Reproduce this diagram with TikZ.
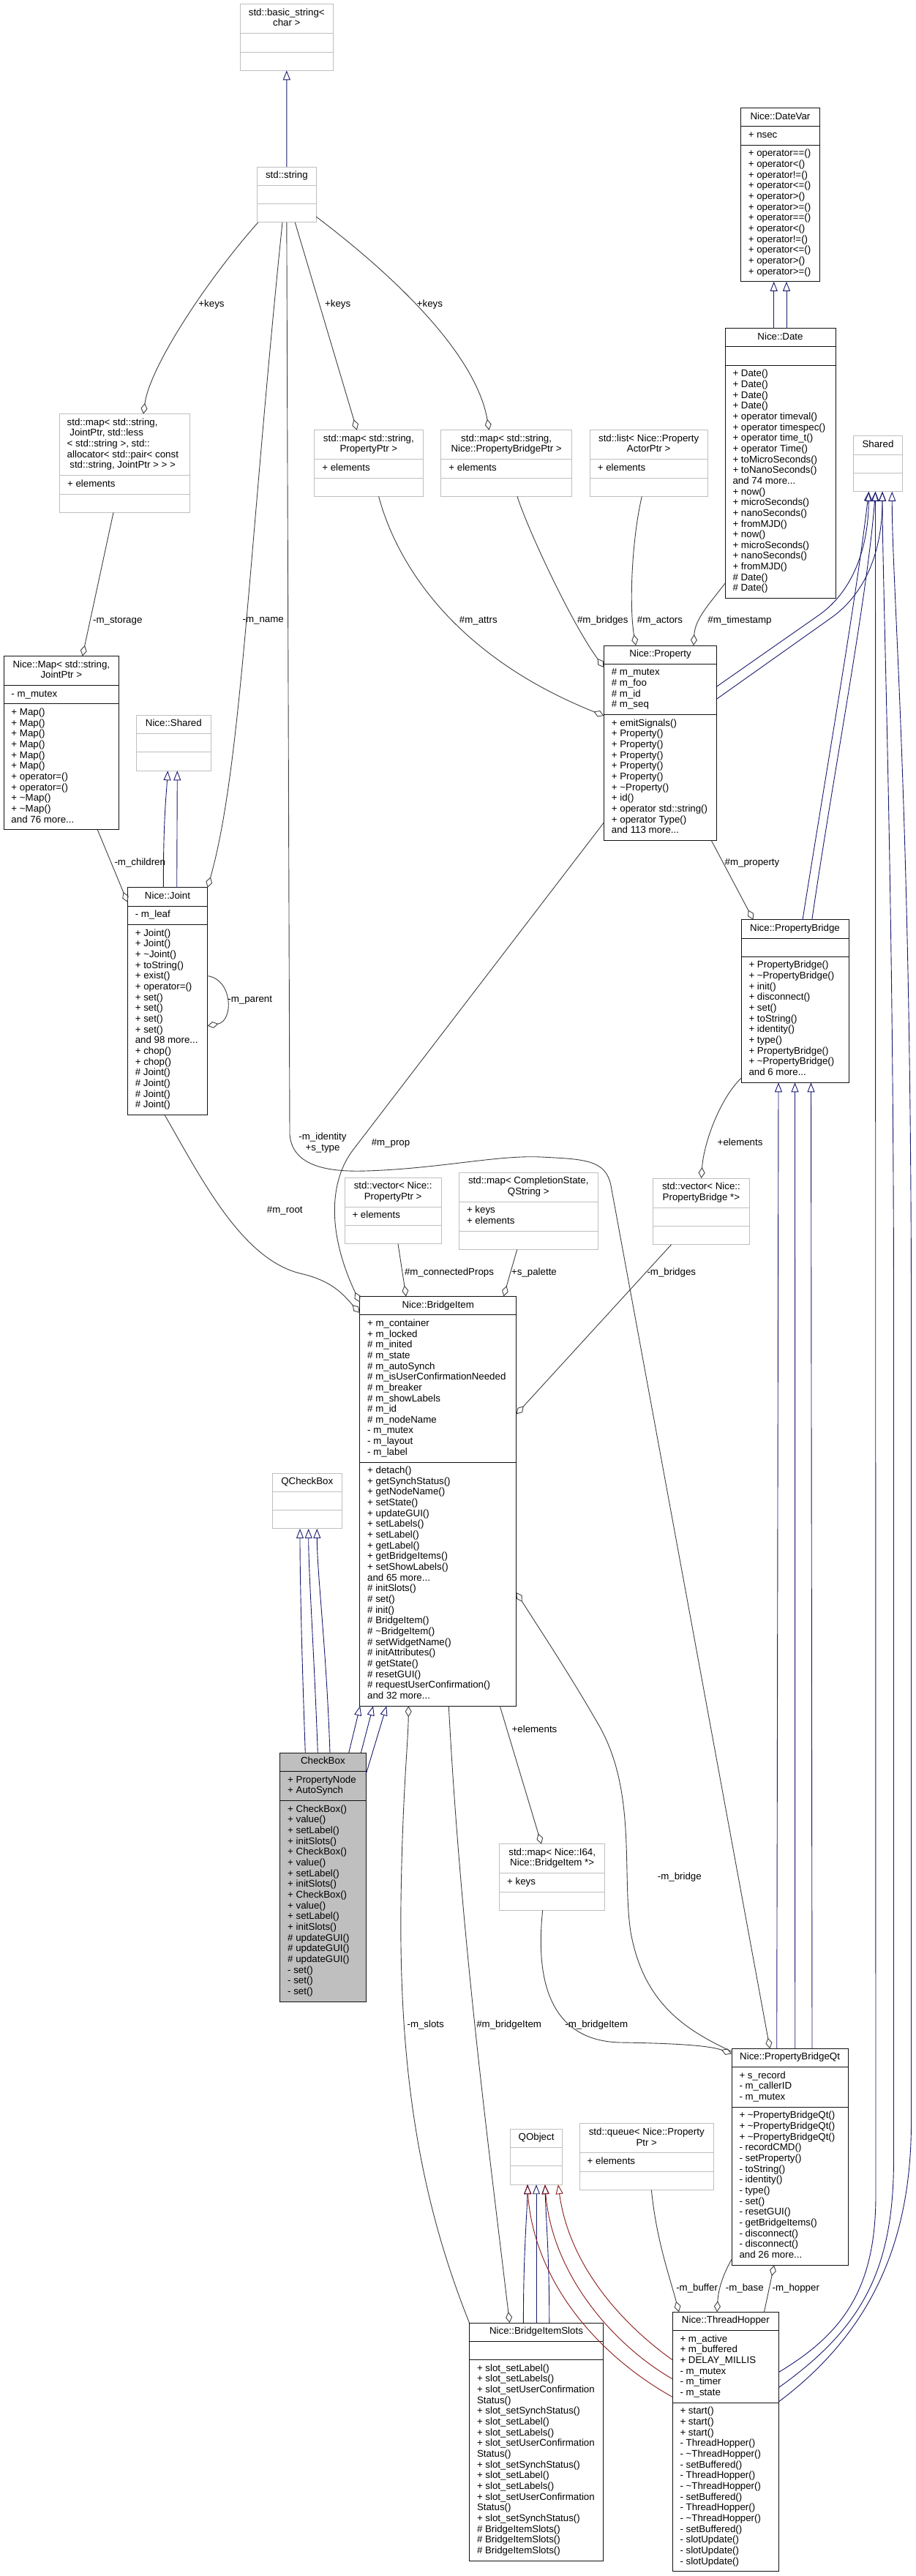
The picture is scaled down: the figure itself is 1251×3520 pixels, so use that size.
\documentclass[tikz,border=0pt]{standalone}
\usepackage{fontspec}
\setmainfont{Liberation Sans}
\usetikzlibrary{arrows.meta,calc}
\definecolor{edgegray}{HTML}{404040}
\definecolor{boxdark}{HTML}{111111}
\definecolor{boxlight}{HTML}{BFBFBF}
\definecolor{inhblue}{HTML}{191970}
\definecolor{inhred}{HTML}{8B1A1A}
\definecolor{cbfill}{HTML}{BFBFBF}
\tikzset{
  every node/.style={font=\fontsize{13.3}{14.66}\selectfont, inner sep=0pt, outer sep=0pt},
  dkbox/.style={draw=boxdark, line width=1pt, fill=white},
  ltbox/.style={draw=boxlight, line width=1pt, fill=white},
  cbbox/.style={draw=boxdark, line width=1pt, fill=cbfill},
  dkbox line/.style={draw=boxdark, line width=1pt},
  ltbox line/.style={draw=boxlight, line width=1pt},
  cbbox line/.style={draw=boxdark, line width=1pt},
  agg/.style={draw=edgegray, line width=0.9pt, -{Diamond[open, length=15pt, width=9pt, line width=0.9pt]}},
  inh/.style={draw=inhblue, line width=0.9pt, -{Triangle[open, length=13pt, width=10pt, line width=0.9pt]}},
  inhr/.style={draw=inhred, line width=0.9pt, -{Triangle[open, length=13pt, width=10pt, line width=0.9pt]}},
  lbl/.style={anchor=center},
}
% #1 name, #2 style, #3 xl, #4 yt, #5 xr, #6 title rows, #7 attr rows, #8 method rows, #9 title
\newcommand\umlclass[9]{%
  \pgfmathsetmacro\uT{#6*14.66+10.7}%
  \pgfmathsetmacro\uA{(#7==0)*25.3+(#7>0)*(#7*14.66+10.7)}%
  \pgfmathsetmacro\uM{(#8==0)*25.3+(#8>0)*(#8*14.66+10.7)}%
  \pgfmathsetmacro\yA{#4+\uT}%
  \pgfmathsetmacro\yM{\yA+\uA}%
  \pgfmathsetmacro\yB{\yM+\uM}%
  \pgfmathsetmacro\cx{(#3+#5)/2}%
  \pgfmathsetmacro\cy{(#4+\yB)/2}%
  \pgfmathsetmacro\ww{#5-#3}%
  \pgfmathsetmacro\hh{\yB-#4}%
  \node[#2, minimum width=\ww pt, minimum height=\hh pt] (#1) at (\cx,\cy) {};
  \draw[#2 line] (#3,\yA) -- (#5,\yA) (#3,\yM) -- (#5,\yM);
  \node[anchor=base] (#1-t) at (\cx,#4+15.6) {\begin{tabular}[t]{@{}c@{}}#9\end{tabular}};
  \coordinate (#1-a) at (#3+10.5,\yA+15.6);
  \coordinate (#1-m) at (#3+10.5,\yM+15.6);
}
\newcommand\umlattr[2]{\node[anchor=base west] (#1-at) at (#1-a) {\begin{tabular}[t]{@{}l@{}}#2\end{tabular}};}
\newcommand\umlmeth[2]{\node[anchor=base west] (#1-mt) at (#1-m) {\begin{tabular}[t]{@{}l@{}}#2\end{tabular}};}
\newcommand\tl{\textasciitilde}
\begin{document}
\begin{tikzpicture}[x=1pt,y=-1pt]
\fill[white] (0,0) rectangle (1251,3520);
\useasboundingbox (0,0) rectangle (1251,3520);

% ---------------- classes ----------------
\umlclass{basic}{ltbox}{328.3}{5.7}{455.3}{2}{0}{0}{std::basic\_string<\\char >}
\umlclass{str}{ltbox}{351.7}{228}{432}{1}{0}{0}{std::string}

\umlclass{mapJ}{ltbox}{81.6}{565.7}{259.6}{5}{1}{0}{}
\node[anchor=base west] (mapJ-t2) at (91.7,581.3) {\begin{tabular}[t]{@{}l@{}}std::map< std::string,\\\ JointPtr, std::less\\< std::string >, std::\\allocator< std::pair< const\\\ std::string, JointPtr > > >\end{tabular}};
\umlattr{mapJ}{+ elements}

\umlclass{mapP}{ltbox}{429.8}{587.7}{578}{2}{1}{0}{std::map< std::string,\\PropertyPtr >}
\umlattr{mapP}{+ elements}
\umlclass{mapB}{ltbox}{602.9}{587.7}{781.4}{2}{1}{0}{std::map< std::string,\\Nice::PropertyBridgePtr >}
\umlattr{mapB}{+ elements}
\umlclass{listA}{ltbox}{806.3}{587.7}{967}{2}{1}{0}{std::list< Nice::Property\\ActorPtr >}
\umlattr{listA}{+ elements}

\umlclass{DateVar}{dkbox}{1012.3}{147.5}{1120.7}{1}{1}{12}{Nice::DateVar}
\umlattr{DateVar}{+ nsec}
\umlmeth{DateVar}{+ operator==()\\+ operator<()\\+ operator!=()\\+ operator<=()\\+ operator>()\\+ operator>=()\\+ operator==()\\+ operator<()\\+ operator!=()\\+ operator<=()\\+ operator>()\\+ operator>=()}

\umlclass{Date}{dkbox}{991}{448.5}{1142}{1}{0}{21}{Nice::Date}
\umlmeth{Date}{+ Date()\\+ Date()\\+ Date()\\+ Date()\\+ operator timeval()\\+ operator timespec()\\+ operator time\_t()\\+ operator Time()\\+ toMicroSeconds()\\+ toNanoSeconds()\\and 74 more...\\+ now()\\+ microSeconds()\\+ nanoSeconds()\\+ fromMJD()\\+ now()\\+ microSeconds()\\+ nanoSeconds()\\+ fromMJD()\\\# Date()\\\# Date()}

\umlclass{Shared}{ltbox}{1166.7}{595.8}{1233.3}{1}{0}{0}{Shared}

\umlclass{Map}{dkbox}{5}{896.5}{162.7}{2}{1}{11}{Nice::Map< std::string,\\JointPtr >}
\umlattr{Map}{- m\_mutex}
\umlmeth{Map}{+ Map()\\+ Map()\\+ Map()\\+ Map()\\+ Map()\\+ Map()\\+ operator=()\\+ operator=()\\+ \tl Map()\\+ \tl Map()\\and 76 more...}

\umlclass{NShared}{ltbox}{186.7}{977.3}{288}{1}{0}{0}{Nice::Shared}

\umlclass{Joint}{dkbox}{174.3}{1212.8}{283.7}{1}{1}{17}{Nice::Joint}
\umlattr{Joint}{- m\_leaf}
\umlmeth{Joint}{+ Joint()\\+ Joint()\\+ \tl Joint()\\+ toString()\\+ exist()\\+ operator=()\\+ set()\\+ set()\\+ set()\\+ set()\\and 98 more...\\+ chop()\\+ chop()\\\# Joint()\\\# Joint()\\\# Joint()\\\# Joint()}

\umlclass{Property}{dkbox}{825.4}{882}{979.8}{1}{4}{11}{Nice::Property}
\umlattr{Property}{\# m\_mutex\\\# m\_foo\\\# m\_id\\\# m\_seq}
\umlmeth{Property}{+ emitSignals()\\+ Property()\\+ Property()\\+ Property()\\+ Property()\\+ Property()\\+ \tl Property()\\+ id()\\+ operator std::string()\\+ operator Type()\\and 113 more...}

\umlclass{PB}{dkbox}{1013}{1256.7}{1160}{1}{0}{11}{Nice::PropertyBridge}
\umlmeth{PB}{+ PropertyBridge()\\+ \tl PropertyBridge()\\+ init()\\+ disconnect()\\+ set()\\+ toString()\\+ identity()\\+ type()\\+ PropertyBridge()\\+ \tl PropertyBridge()\\and 6 more...}

\umlclass{vecP}{ltbox}{471}{1609}{603.3}{2}{1}{0}{std::vector< Nice::\\PropertyPtr >}
\umlattr{vecP}{+ elements}
\umlclass{mapC}{ltbox}{627.5}{1602.3}{817}{2}{2}{0}{std::map< CompletionState,\\QString >}
\umlattr{mapC}{+ keys\\+ elements}
\umlclass{vecB}{ltbox}{892.6}{1610}{1024.2}{2}{0}{0}{std::vector< Nice::\\PropertyBridge *>}

\umlclass{BI}{dkbox}{491.7}{1771.4}{705.7}{1}{13}{22}{Nice::BridgeItem}
\umlattr{BI}{+ m\_container\\+ m\_locked\\\# m\_inited\\\# m\_state\\\# m\_autoSynch\\\# m\_isUserConfirmationNeeded\\\# m\_breaker\\\# m\_showLabels\\\# m\_id\\\# m\_nodeName\\- m\_mutex\\- m\_layout\\- m\_label}
\umlmeth{BI}{+ detach()\\+ getSynchStatus()\\+ getNodeName()\\+ setState()\\+ updateGUI()\\+ setLabels()\\+ setLabel()\\+ getLabel()\\+ getBridgeItems()\\+ setShowLabels()\\and 65 more...\\\# initSlots()\\\# set()\\\# init()\\\# BridgeItem()\\\# \tl BridgeItem()\\\# setWidgetName()\\\# initAttributes()\\\# getState()\\\# resetGUI()\\\# requestUserConfirmation()\\and 32 more...}

\umlclass{QCB}{ltbox}{372.3}{2013}{467.3}{1}{0}{0}{QCheckBox}

\umlclass{CB}{cbbox}{382.7}{2395.3}{500}{1}{2}{18}{CheckBox}
\umlattr{CB}{+ PropertyNode\\+ AutoSynch}
\umlmeth{CB}{+ CheckBox()\\+ value()\\+ setLabel()\\+ initSlots()\\+ CheckBox()\\+ value()\\+ setLabel()\\+ initSlots()\\+ CheckBox()\\+ value()\\+ setLabel()\\+ initSlots()\\\# updateGUI()\\\# updateGUI()\\\# updateGUI()\\- set()\\- set()\\- set()}

\umlclass{mapI}{ltbox}{682.7}{2519.7}{826.7}{2}{1}{0}{std::map< Nice::I64,\\Nice::BridgeItem *>}
\umlattr{mapI}{+ keys}

\umlclass{PBQt}{dkbox}{1000}{2799.3}{1159.2}{1}{3}{14}{Nice::PropertyBridgeQt}
\umlattr{PBQt}{+ s\_record\\- m\_callerID\\- m\_mutex}
\umlmeth{PBQt}{+ \tl PropertyBridgeQt()\\+ \tl PropertyBridgeQt()\\+ \tl PropertyBridgeQt()\\- recordCMD()\\- setProperty()\\- toString()\\- identity()\\- type()\\- set()\\- resetGUI()\\- getBridgeItems()\\- disconnect()\\- disconnect()\\and 26 more...}

\umlclass{QObj}{ltbox}{697.7}{2909.2}{768.4}{1}{0}{0}{QObject}
\umlclass{queue}{ltbox}{792.2}{2901.9}{975.3}{2}{1}{0}{std::queue< Nice::Property\\Ptr >}
\umlattr{queue}{+ elements}

\umlclass{BIS}{dkbox}{641.5}{3174}{824.5}{1}{0}{18}{Nice::BridgeItemSlots}
\umlmeth{BIS}{+ slot\_setLabel()\\+ slot\_setLabels()\\+ slot\_setUserConfirmation\\Status()\\+ slot\_setSynchStatus()\\+ slot\_setLabel()\\+ slot\_setLabels()\\+ slot\_setUserConfirmation\\Status()\\+ slot\_setSynchStatus()\\+ slot\_setLabel()\\+ slot\_setLabels()\\+ slot\_setUserConfirmation\\Status()\\+ slot\_setSynchStatus()\\\# BridgeItemSlots()\\\# BridgeItemSlots()\\\# BridgeItemSlots()}

\umlclass{TH}{dkbox}{919}{3159.2}{1064.7}{1}{6}{15}{Nice::ThreadHopper}
\umlattr{TH}{+ m\_active\\+ m\_buffered\\+ DELAY\_MILLIS\\- m\_mutex\\- m\_timer\\- m\_state}
\umlmeth{TH}{+ start()\\+ start()\\+ start()\\- ThreadHopper()\\- \tl ThreadHopper()\\- setBuffered()\\- ThreadHopper()\\- \tl ThreadHopper()\\- setBuffered()\\- ThreadHopper()\\- \tl ThreadHopper()\\- setBuffered()\\- slotUpdate()\\- slotUpdate()\\- slotUpdate()}

% ---------------- inheritance ----------------
\draw[inh] (str.north) -- (basic.south);
\draw[inh] ($(Date.north west)+(66.7,0)$) -- ($(DateVar.south west)+(45.4,0)$);
\draw[inh] ($(Date.north west)+(84,0)$) -- ($(DateVar.south west)+(62.7,0)$);
\draw[inh] ($(Joint.north west)+(49,0)$) .. controls (223.3,1120) and (227,1090) .. ($(NShared.south west)+(42.6,0)$);
\draw[inh] ($(Joint.north west)+(67.4,0)$) -- ($(NShared.south west)+(55.6,0)$);
\draw[inh] ($(Property.north east)+(0,56)$) -- (1120,840) .. controls (1165,808) and (1187,750) .. ($(Shared.south west)+(20.7,0)$);
\draw[inh] ($(Property.north east)+(0,73)$) -- (1135,845) .. controls (1185,810) and (1206,750) .. ($(Shared.south west)+(39.3,0)$);
\draw[inh] ($(PB.north west)+(84,0)$) .. controls (1130,1050) and (1170,820) .. ($(Shared.south west)+(20.7,0)$);
\draw[inh] ($(PB.north west)+(96.8,0)$) .. controls (1140,1050) and (1185,820) .. ($(Shared.south west)+(29.8,0)$);
\draw[inh] ($(TH.north east)+(0,82.1)$) .. controls (1150,3190) and (1197,3130) .. (1197,3000) -- ($(Shared.south west)+(29.8,0)$);
\draw[inh] ($(TH.north east)+(0,103)$) .. controls (1180,3180) and (1221.5,3100) .. (1221.5,2950) -- (1221.5,1800) .. controls (1221.5,1200) and (1206,800) .. ($(Shared.south west)+(39.3,0)$);
\draw[inh] ($(TH.north east)+(0,122.4)$) .. controls (1200,3180) and (1245.5,3050) .. (1245.5,2900) -- (1245.5,1800) .. controls (1245.5,1100) and (1219,800) .. ($(Shared.south west)+(52.6,0)$);
\draw[inh] ($(PBQt.north west)+(61.7,0)$) -- ($(PB.south west)+(51,0)$);
\draw[inh] ($(PBQt.north west)+(86.7,0)$) -- ($(PB.south west)+(73.5,0)$);
\draw[inh] ($(PBQt.north west)+(110,0)$) -- ($(PB.south west)+(95.5,0)$);
\draw[inh] ($(CB.north west)+(34.6,0)$) .. controls (412,2250) and (410,2150) .. ($(QCB.south west)+(37.7,0)$);
\draw[inh] ($(CB.north west)+(51.6,0)$) .. controls (429,2250) and (421.7,2150) .. ($(QCB.south west)+(49.4,0)$);
\draw[inh] ($(CB.north west)+(68.3,0)$) .. controls (446,2250) and (433.3,2150) .. ($(QCB.south west)+(61,0)$);
\draw[inh] ($(CB.north west)+(94,0)$) -- ($(BI.south west)+(0.5,0)$);
\draw[inh] ($(CB.north west)+(110.6,0)$) -- ($(BI.south west)+(18.3,0)$);
\draw[inh] ($(CB.north east)+(0,29.7)$) -- ($(BI.south west)+(36.6,0)$);
\draw[inh] ($(BIS.north west)+(73.9,0)$) .. controls (715.4,3080) and (720,3030) .. ($(QObj.south west)+(23.7,0)$);
\draw[inh] ($(BIS.north west)+(91.5,0)$) -- ($(QObj.south west)+(35.3,0)$);
\draw[inh] ($(BIS.north west)+(109.3,0)$) .. controls (750.8,3080) and (746,3030) .. ($(QObj.south west)+(47.3,0)$);
\draw[inhr] ($(TH.north west)+(0,65.4)$) .. controls (870,3190) and (780,3110) .. ($(QObj.south west)+(65.2,0)$);
\draw[inhr] ($(TH.north west)+(0,91.5)$) .. controls (840,3205) and (755,3110) .. ($(QObj.south west)+(47.1,0)$);
\draw[inhr] ($(TH.north west)+(0,116.1)$) .. controls (820,3220) and (730,3120) .. ($(QObj.south west)+(22.9,0)$);

% ---------------- usage ----------------
\draw[agg] ($(str.south west)+(1,0)$) .. controls (285,380) and (205,500) .. ($(mapJ.north west)+(114.4,0)$);
\draw[agg] ($(str.south west)+(51.6,0)$) -- ($(mapP.north west)+(58,0)$);
\draw[agg] ($(str.north east)+(0,68)$) .. controls (530,370) and (650,480) .. ($(mapB.north west)+(65.6,0)$);
\draw[agg] ($(str.south west)+(34.3,0)$) .. controls (340,750) and (330,1050) .. (Joint.north east);
\draw[agg] (str.south) -- (396,1550) .. controls (399,1590) and (440,1602) .. (500,1600) .. controls (600,1597) and (680,1578) .. (740,1581) .. controls (800,1584) and (828,1585) .. (835,1620) -- ($(PBQt.north west)+(52.3,0)$);
\draw[agg] ($(mapJ.south west)+(73.4,0)$) -- ($(Map.north west)+(107.7,0)$);
\draw[agg] ($(Map.south west)+(128.3,0)$) -- ($(Joint.north west)+(0,20)$);
\draw[agg] ($(Joint.north east)+(0,120.8)$) .. controls (318,1338) and (320,1395) .. ($(Joint.north east)+(0,189)$);
\draw[agg] ($(mapP.south west)+(87.8,0)$) .. controls (545,780) and (630,900) .. ($(Property.north west)+(0,96)$);
\draw[agg] ($(mapB.south west)+(104.1,0)$) .. controls (720,720) and (780,850) .. ($(Property.north west)+(0,30)$);
\draw[agg] ($(listA.south west)+(71,0)$) .. controls (863,740) and (860,830) .. ($(Property.north west)+(43.6,0)$);
\draw[agg] ($(Date.south west)+(0,-20.7)$) .. controls (970,825) and (950,845) .. ($(Property.north west)+(122.6,0)$);
\draw[agg] ($(Property.south west)+(147,0)$) -- ($(PB.north west)+(16.6,0)$);
\draw[agg] ($(PB.south west)+(0,-6)$) .. controls (985,1500) and (962,1560) .. ($(vecB.north west)+(66,0)$);
\draw[agg] ($(Property.south west)+(0,-24.7)$) -- (482,1572) .. controls (452,1612) and (445,1680) .. ($(BI.north west)+(0,8)$);
\draw[agg] ($(Joint.south west)+(50.7,0)$) .. controls (275,1610) and (330,1720) .. (410,1740) .. controls (455,1750) and (470,1770) .. ($(BI.north west)+(0,22.6)$);
\draw[agg] ($(vecP.south west)+(73,0)$) -- ($(BI.north west)+(63.3,0)$);
\draw[agg] ($(mapC.south west)+(79.2,0)$) -- ($(BI.north west)+(196.6,0)$);
\draw[agg] ($(vecB.south west)+(25,0)$) -- ($(BI.north east)+(0,161)$);
\draw[agg] ($(PBQt.north west)+(0,4)$) .. controls (940,2775) and (880,2740) .. (862,2640) .. controls (850,2560) and (870,2450) .. (820,2360) .. controls (780,2290) and (740,2230) .. ($(BI.north east)+(0,404.6)$);
\draw[agg] ($(BI.south west)+(191.6,0)$) -- ($(mapI.north west)+(57.3,0)$);
\draw[agg] ($(mapI.south west)+(59,0)$) .. controls (730,2720) and (760,2790) .. (850,2791) .. controls (920,2792) and (970,2795) .. ($(PBQt.north west)+(0,7)$);
\draw[agg] ($(BI.south west)+(121.6,0)$) .. controls (630,2650) and (670,2950) .. ($(BIS.north west)+(55,0)$);
\draw[agg] (BIS.north west) .. controls (580,3020) and (545,2850) .. (548,2600) .. controls (550,2450) and (558,2380) .. ($(BI.south west)+(66.6,0)$);
\draw[agg] ($(queue.south west)+(98.2,0)$) .. controls (897,3060) and (915,3110) .. ($(TH.north west)+(9,0)$);
\draw[agg] ($(PBQt.south west)+(0,-8)$) .. controls (990,3105) and (982,3125) .. ($(TH.north west)+(61,0)$);
\draw[agg] ($(TH.north west)+(125.5,0)$) -- ($(PBQt.south west)+(58,0)$);

% ---------------- labels ----------------
\node[lbl] (l1) at (289,415.7) {+keys};
\node[lbl] (l2) at (461.7,415.7) {+keys};
\node[lbl] (l3) at (587.4,415.7) {+keys};
\node[lbl] (l4) at (160.8,848.3) {-m\_storage};
\node[lbl] (l5) at (359.7,848.3) {-m\_name};
\node[lbl] (l6) at (191.3,1179.3) {-m\_children};
\node[lbl] (l7) at (341.7,1366.7) {-m\_parent};
\node[lbl] (l8) at (653.8,848.4) {\#m\_attrs};
\node[lbl] (l9) at (823.8,848.4) {\#m\_bridges};
\node[lbl] (l10) at (902,848.4) {\#m\_actors};
\node[lbl] (l11) at (1011,848.4) {\#m\_timestamp};
\node[lbl] (l12) at (1028,1179) {\#m\_property};
\node[lbl] (l13) at (1011.6,1561) {+elements};
\node[lbl] (l14) at (441,1562) {\begin{tabular}{@{}c@{}}-m\_identity\\+s\_type\end{tabular}};
\node[lbl] (l15) at (534,1562) {\#m\_prop};
\node[lbl] (l16) at (389.3,1653.9) {\#m\_root};
\node[lbl] (l17) at (614,1738.8) {\#m\_connectedProps};
\node[lbl] (l18) at (730,1738.8) {+s\_palette};
\node[lbl] (l19) at (917.8,1738.8) {-m\_bridges};
\node[lbl] (l20) at (730.5,2362.8) {+elements};
\node[lbl] (l21) at (928.8,2565) {-m\_bridge};
\node[lbl] (l22) at (581.7,2767) {-m\_slots};
\node[lbl] (l23) at (695.7,2766.8) {\#m\_bridgeItem};
\node[lbl] (l24) at (815.3,2766.8) {-m\_bridgeItem};
\node[lbl] (l25) at (952.6,3126.8) {-m\_buffer};
\node[lbl] (l26) at (1017.8,3126.8) {-m\_base};
\node[lbl] (l27) at (1087.8,3126.8) {-m\_hopper};
\end{tikzpicture}
\end{document}
